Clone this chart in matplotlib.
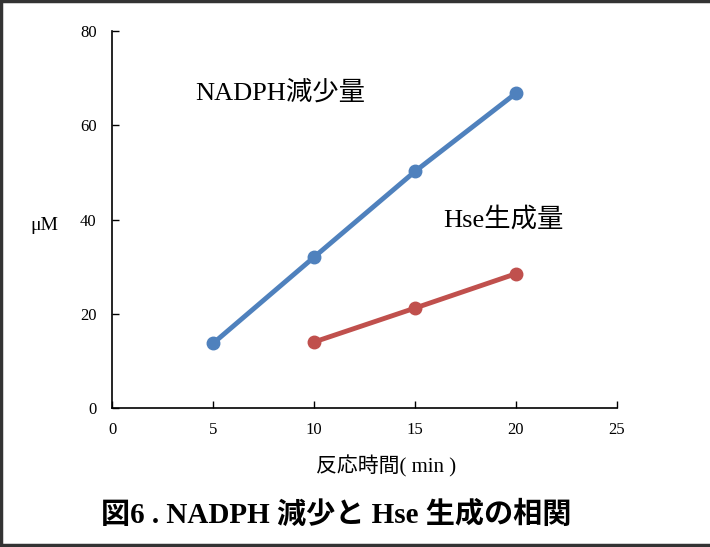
import matplotlib
matplotlib.use("Agg")
import matplotlib.pyplot as plt
from matplotlib.lines import Line2D

plt.rcParams['font.family'] = ['Liberation Serif', 'Noto Sans CJK JP']

# Daten
x_nadph = [5, 10, 15, 20]
y_nadph = [13.7, 32.0, 50.2, 66.8]
x_hse = [10, 15, 20]
y_hse = [14.0, 21.2, 28.5]
x_ticks = [0, 5, 10, 15, 20, 25]
y_ticks = [0, 20, 40, 60, 80]

fig = plt.figure(figsize=(7.10, 5.47), dpi=100)
ax = fig.add_axes([112 / 710, 1 - 408 / 547, 505 / 710, 377 / 547])

ax.plot(x_nadph, y_nadph, color='#4f81bd', linewidth=3.5, marker='o',
        markersize=9, solid_capstyle='round')
ax.plot(x_hse, y_hse, color='#c0504d', linewidth=3.5, marker='o',
        markersize=9, solid_capstyle='round')

ax.set_xlim(0, 25)
ax.set_ylim(0, 80)
ax.set_xticks(x_ticks)
ax.set_yticks(y_ticks)
ax.tick_params(direction='in', length=5, width=1, labelsize=12)
ax.tick_params(axis='x', pad=10)
ax.tick_params(axis='y', pad=11)
for s in ['top', 'right']:
    ax.spines[s].set_visible(False)
ax.spines['left'].set_linewidth(1.2)
ax.spines['bottom'].set_linewidth(1.2)

# Beschriftungen
ax.text(4.1, 65.5, 'NADPH減少量', fontsize=19)
ax.text(16.4, 38.5, 'Hse生成量', fontsize=19)
fig.text(30 / 710, 1 - 225 / 547, 'μM', fontsize=14, va='center')
fig.text(386 / 710, 1 - 466 / 547, '反応時間( min )', fontsize=15,
         ha='center', va='center')
fig.text(336 / 710, 1 - 515 / 547, '図6 . NADPH 減少と Hse 生成の相関',
         fontsize=21, fontweight='bold', ha='center', va='center')

# Rahmen (oben, links, unten)
for xs, ys in [([0, 1], [0.998, 0.998]), ([0.001, 0.001], [0, 1]),
               ([0, 1], [0.003, 0.003])]:
    fig.add_artist(Line2D(xs, ys, transform=fig.transFigure,
                          color='#333333', linewidth=2.5))

fig.savefig('out.png', dpi=100)
